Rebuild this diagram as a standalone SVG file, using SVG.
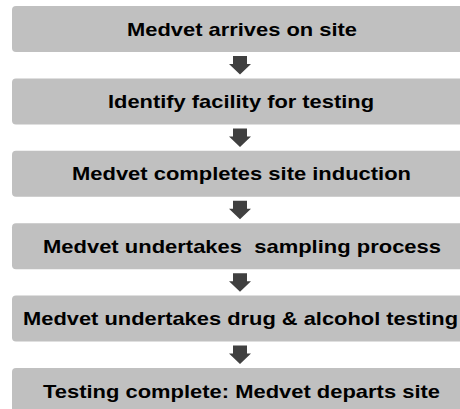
<svg xmlns="http://www.w3.org/2000/svg" width="460" height="409" viewBox="0 0 460 409">
<style>
.box{fill:#c0c0c0;}
.lbl{font-family:"Liberation Sans",Arial,sans-serif;font-weight:bold;font-size:18.5px;fill:#000;text-anchor:middle;}
.arr{fill:#404040;}
</style>
<defs>
<path id="arrow" d="M-7,0 H7 V8 H11 L0,18.5 L-11,8 H-7 Z"/>
</defs>
<rect width="460" height="409" fill="#fff"/>
<g id="n1"><rect class="box" x="12" y="6" width="456" height="46" rx="4"/><text class="lbl" x="242" y="35.5" textLength="230" lengthAdjust="spacingAndGlyphs">Medvet arrives on site</text></g>
<g id="n2"><rect class="box" x="12" y="78.4" width="456" height="46" rx="4"/><text class="lbl" x="241" y="107.9" textLength="266" lengthAdjust="spacingAndGlyphs">Identify facility for testing</text></g>
<g id="n3"><rect class="box" x="12" y="150.8" width="456" height="46" rx="4"/><text class="lbl" x="241.5" y="180.3" textLength="339" lengthAdjust="spacingAndGlyphs">Medvet completes site induction</text></g>
<g id="n4"><rect class="box" x="12" y="223.2" width="456" height="46" rx="4"/><text class="lbl" x="242" y="252.7" textLength="398" lengthAdjust="spacingAndGlyphs" xml:space="preserve">Medvet undertakes  sampling process</text></g>
<g id="n5"><rect class="box" x="12" y="295.6" width="456" height="46" rx="4"/><text class="lbl" x="240.5" y="325.1" textLength="435" lengthAdjust="spacingAndGlyphs">Medvet undertakes drug &amp; alcohol testing</text></g>
<g id="n6"><rect class="box" x="12" y="368" width="456" height="46" rx="4"/><text class="lbl" x="241.5" y="397.5" textLength="397" lengthAdjust="spacingAndGlyphs">Testing complete: Medvet departs site</text></g>
<g id="connectors" class="arr">
<use href="#arrow" x="240" y="56"/>
<use href="#arrow" x="240" y="128.4"/>
<use href="#arrow" x="240" y="200.8"/>
<use href="#arrow" x="240" y="273.2"/>
<use href="#arrow" x="240" y="345.6"/>
</g>
</svg>
